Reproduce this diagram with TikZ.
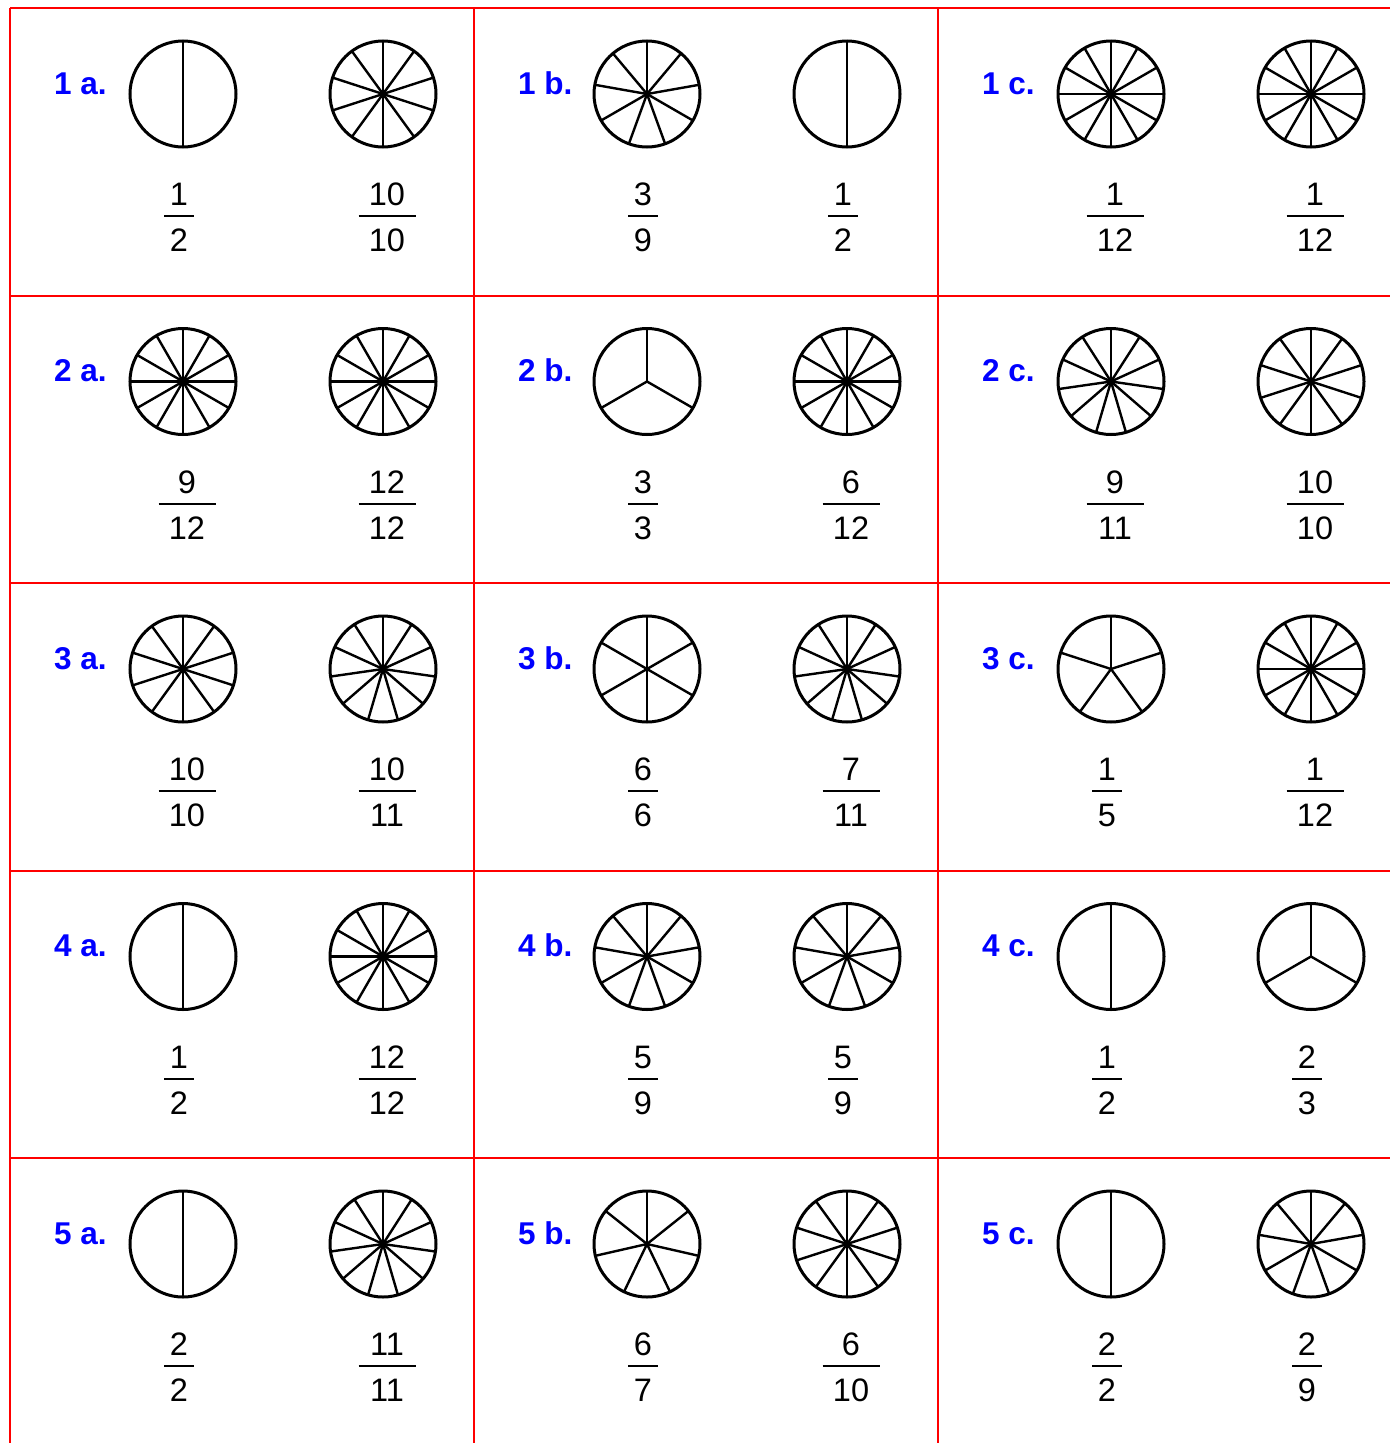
\documentclass[tikz,border=0pt]{standalone}
\usepackage{fontspec}
\setmainfont{Liberation Sans}
\definecolor{gridred}{RGB}{255,0,0}
\definecolor{lblblue}{RGB}{0,0,255}
\tikzset{
  gridline/.style={draw=gridred, line width=2pt},
  rim/.style={line width=3pt},
  spoke/.style={line width=2.4pt},
  bar/.style={line width=2pt},
  numtxt/.style={inner sep=0pt, anchor=base, font=\fontsize{32.5}{32.5}\selectfont},
  lbl/.style={inner sep=0pt, anchor=base west, text=lblblue, font=\bfseries\fontsize{31.5}{31.5}\selectfont},
}
\newcommand\drawpie[5]{%
  \coordinate (#1c) at (#2,#3);
  \draw[rim] (#1c) circle[radius=53pt];
  \foreach \k in {1,...,#5}{\draw[spoke] (#1c) -- ++({90+\k*360/#5}:53pt);}
  \ifnum#5>9 \pgfmathsetmacro\fx{#2+4}\def\hw{28.5}\else\pgfmathsetmacro\fx{#2-4}\def\hw{15}\fi
  \node[numtxt] (#1n) at (\fx,#3+111.5) {#4};
  \node[numtxt] (#1d) at (\fx,#3+157.5) {#5};
  \coordinate (#1l) at (\fx-\hw,#3+122);
  \coordinate (#1r) at (\fx+\hw,#3+122);
  \draw[bar] (#1l) -- (#1r);
}
\begin{document}
\begin{tikzpicture}[x=1pt,y=-1pt]
\useasboundingbox (0,0) rectangle (1390,1443);
\clip (0,0) rectangle (1390,1443);
\fill[white] (0,0) rectangle (1390,1443);
% grid
\foreach \yy in {8,295.5,583,870.5,1158}{\draw[gridline] (10,\yy) -- (1390,\yy);}
\foreach \xx in {10,474,938}{\draw[gridline] (\xx,8) -- (\xx,1443);}
% cells
\foreach \row/\col/\lab/\na/\da/\nb/\db in {
  0/0/1 a./1/2/10/10, 0/1/1 b./3/9/1/2, 0/2/1 c./1/12/1/12,
  1/0/2 a./9/12/12/12, 1/1/2 b./3/3/6/12, 1/2/2 c./9/11/10/10,
  2/0/3 a./10/10/10/11, 2/1/3 b./6/6/7/11, 2/2/3 c./1/5/1/12,
  3/0/4 a./1/2/12/12, 3/1/4 b./5/9/5/9, 3/2/4 c./1/2/2/3,
  4/0/5 a./2/2/11/11, 4/1/5 b./6/7/6/10, 4/2/5 c./2/2/2/9}{
  \pgfmathsetmacro\X{10+464*\col}
  \pgfmathsetmacro\Y{8+287.5*\row}
  \node[lbl] (lab\row\col) at (\X+44,\Y+86) {\lab};
  \drawpie{p\row\col a}{\X+173}{\Y+86}{\na}{\da}
  \drawpie{p\row\col b}{\X+373}{\Y+86}{\nb}{\db}
}
\end{tikzpicture}
\end{document}
